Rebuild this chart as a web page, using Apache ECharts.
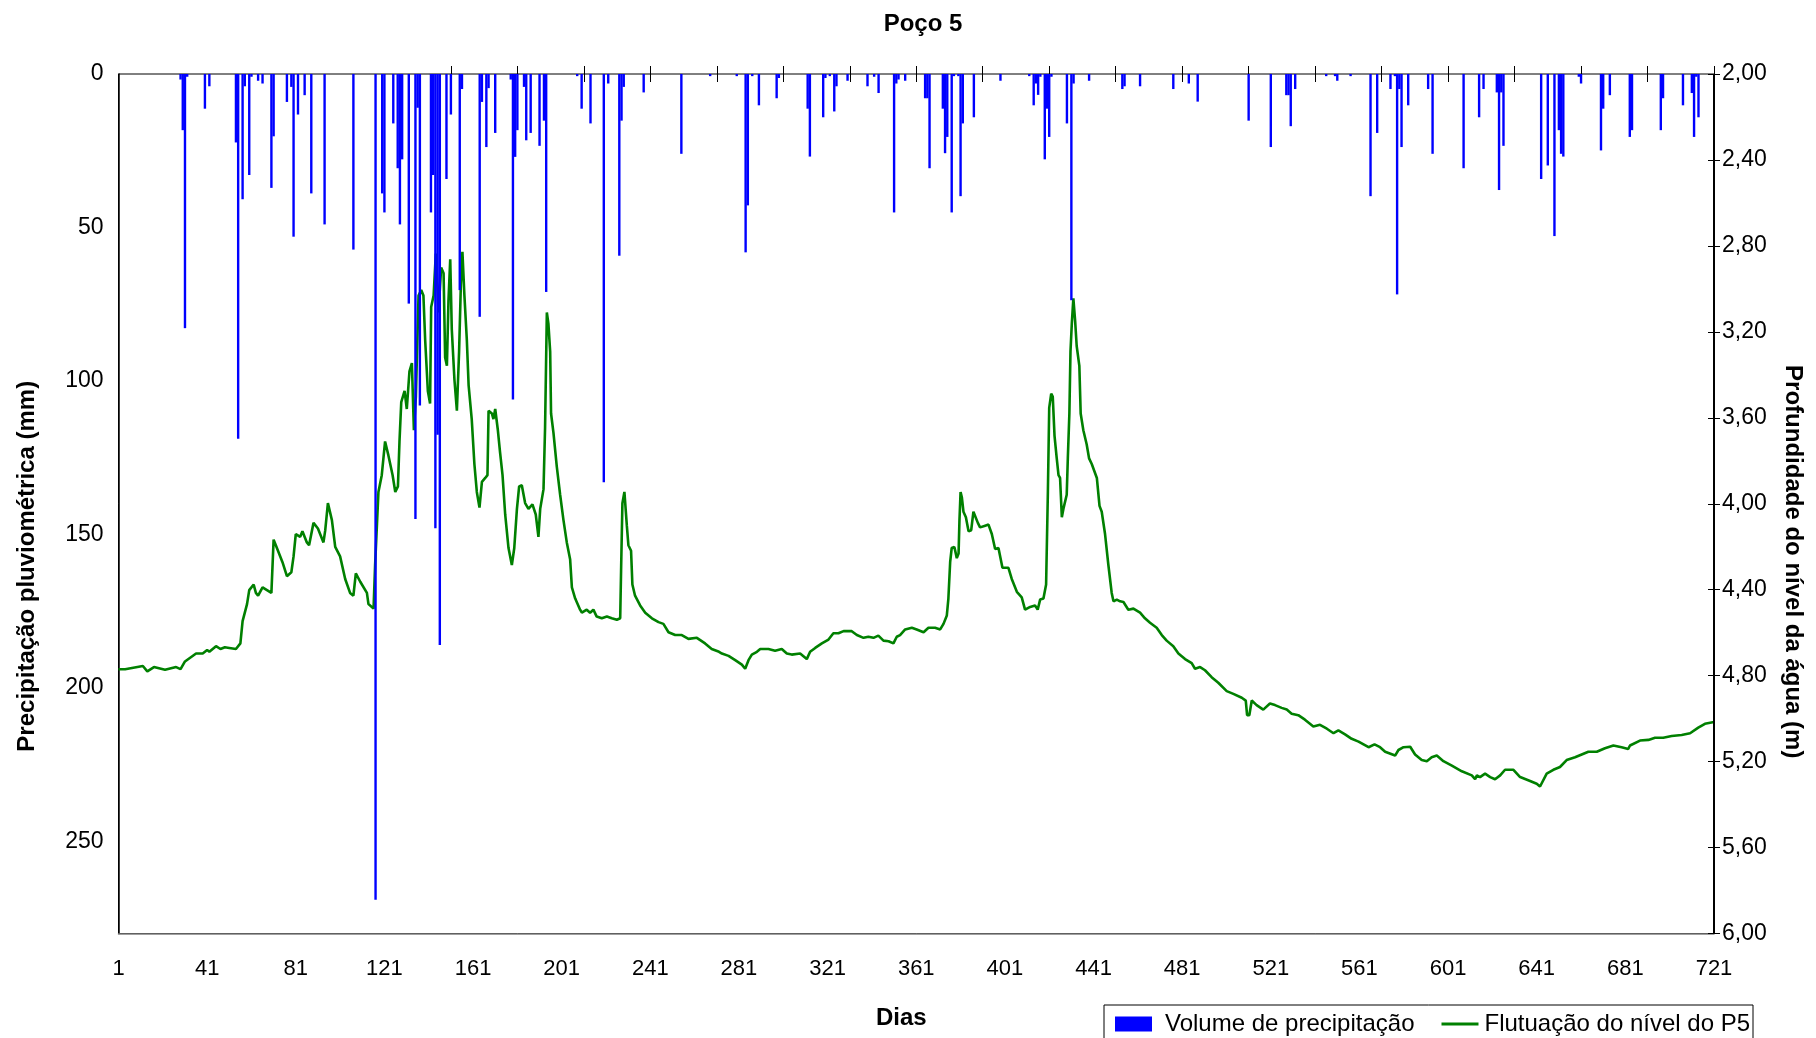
<!DOCTYPE html>
<html>
<head>
<meta charset="utf-8">
<script src="https://cdn.jsdelivr.net/npm/echarts@6/dist/echarts.min.js"></script>
<style>
html,body{margin:0;padding:0;background:#fff;}
#chart{width:1816px;height:1038px;}
</style>
</head>
<body>
<div id="chart"></div>
<script>
// ---- Data ----
const chartTitle = 'Poço 5';
const xName = 'Dias';
const leftName = 'Precipitação pluviométrica (mm)';
const rightName = 'Profundidade do nível da água (m)';
const rainName = 'Volume de precipitação';
const levelName = 'Flutuação do nível do P5';

// Day labels on the x axis (every 40 days) and top tick marks (every 30 days from day 151)
const xTickDays = [1, 41, 81, 121, 161, 201, 241, 281, 321, 361, 401, 441, 481, 521, 561, 601, 641, 681, 721];
const topTickDays = [151, 181, 211, 241, 271, 301, 331, 361, 391, 421, 451, 481, 511, 541, 571, 601, 631, 661, 691, 721];

// Daily rainfall [day, mm] (only rainy days)
const rainfall = [
 [29,1.8],[30,18.3],[31,82.8],[32,0.9],[40,11.3],[42,4.0],[54,22.3],[55,118.8],[57,40.8],[58,4.0],[60,32.9],[61,0.9],[64,2.2],[66,3.1],[70,37.1],[71,20.3],[77,9.1],[79,4.2],[80,53],[82,13.2],[85,6.9],[88,38.9],
 [94,49],[107,57.2],[117,269],[120,38.9],[121,45.1],[125,16.1],[127,30.7],[128,49],[129,27.8],[132,74.8],[135,145],[136,11],[137,108],[142,45.1],[143,32.9],[144,148],[145,117.5],[146,186],[149,34.2],[151,13.2],[155,70.4],[156,4.9],[164,79.1],[165,9.1],[167,23.8],[168,4.6],[171,19.2],[178,1.8],[179,106],[180,27],[181,18.3],
 [184,4.2],[185,21.6],[187,19.2],[191,23.4],[193,15.2],[194,71],[208,0.7],[210,11.3],[214,16.1],[220,133],[222,3.1],[227,59.2],[228,15.2],[229,4.2],[238,6.0],[255,26],[268,0.7],
 [280,0.7],[284,58.1],[285,42.8],[287,0.7],[290,10.2],[298,7.9],[299,1.3],[312,11.3],[313,26.9],[319,14.1],[320,1.3],[322,0.7],[324,12.2],[325,4.0],[330,2.2],[339,4.0],[342,0.9],[344,6.2],[351,45.1],[352,3.1],[353,1.8],[356,2.2],
 [365,7.9],[366,7.9],[367,30.7],[373,11.3],[374,25.8],[375,20.5],[377,45.1],[378,0.7],[380,0.7],[381,39.8],[382,16.1],[387,14.1],[399,2.2],[412,0.7],[414,10.2],[415,3.1],[416,6.8],[417,0.9],[419,27.8],[420,11.3],[421,20.5],[422,0.9],[429,16.1],[431,73.7],[432,3.1],[439,2.2],
 [454,4.9],[455,4.0],[462,4.0],[477,4.9],[484,3.1],[488,9.0],[511,15.2],[521,23.8],[528,6.9],[529,6.9],[530,17.0],[532,4.9],
 [546,0.7],[550,0.7],[551,2.2],[557,0.7],[566,39.8],[569,19.2],[575,4.9],[577,0.7],[578,71.8],[579,4.9],[580,23.8],[583,10.2],[592,4.9],[594,26],[608,30.7],[615,14.1],[617,4.9],[623,6.0],[624,37.8],[625,6.0],[626,23.4],
 [643,34.2],[646,29.8],[649,52.8],[651,18.3],[652,26],[653,26.9],[660,0.9],[661,3.1],[670,24.9],[671,11.3],[674,6.9],[683,20.5],[684,18.3],[697,18.3],[698,7.9],[707,10.2],[711,6.2],[712,20.5],[713,0.9],[714,14.1]
];

// Water-level depth [day, m]
const waterLevel = [
 [1,4.77],[4,4.77],[12,4.755],[14,4.78],[17,4.76],[22,4.773],[27,4.76],[29,4.77],[31,4.734],[36,4.697],[39,4.697],[41,4.681],[42,4.689],[45,4.663],[47,4.676],[49,4.668],[51,4.671],[54,4.676],[56,4.65],[57,4.546],[59,4.467],[60,4.402],[62,4.376],[63,4.415],[64,4.428],[66,4.389],[68,4.402],[70,4.415],[71,4.167],[72,4.193],[75,4.272],[77,4.337],[79,4.319],[80,4.245],[81,4.141],[83,4.154],[84,4.128],[86,4.18],[87,4.193],[89,4.089],[91,4.115],
 [93.5,4.18],[94.3,4.123],[95.5,3.997],[97.3,4.076],[98.8,4.201],[101,4.245],[103.3,4.35],[105.5,4.415],[107,4.428],[108.1,4.324],[110.1,4.363],[113.1,4.415],[113.8,4.467],[116.1,4.488],[116.8,4.285],[118.3,3.945],[119.8,3.867],[121.3,3.71],[122.8,3.775],[124.7,3.867],[125.9,3.945],[127.1,3.919],[127.8,3.71],[128.6,3.527],[130.1,3.475],[131.1,3.559],[132.3,3.384],[133.4,3.345],[134.3,3.658],[135.2,3.501],[136.4,3.031],[137.6,3.005],[138.6,3.031],[139.4,3.24],[140.6,3.475],[141.6,3.533],[142.1,3.084],[143.2,3.031],[144.2,2.836],[145.1,3.031],[145.4,3.11],[146.6,2.901],[147.7,2.927],[148.4,3.319],[149.2,3.358],[149.9,3.057],[150.7,2.862],[151.4,3.188],[152.6,3.423],[153.7,3.567],[154.7,3.292],[155.5,2.979],[156.2,2.828],[157.1,3.031],[158.2,3.24],[159,3.449],[160.4,3.606],[161.6,3.815],[162.7,3.945],[163.9,4.018],[165,3.898],[166.5,3.88],[167.5,3.867],[168,3.567],[169.5,3.58],[170.2,3.606],[171,3.559],[172.2,3.658],[173.2,3.762],[174.3,3.867],[175.5,4.05],[177,4.206],[178.5,4.285],[179.6,4.206],[180.8,4.024],[181.8,3.919],
 [183,3.914],[184.5,3.997],[186,4.024],[187.8,4.003],[189.3,4.05],[190.5,4.154],[191.3,4.024],[192.8,3.932],[193.5,3.645],[194.3,3.11],[195,3.162],[195.8,3.292],[196.2,3.58],[197.3,3.671],[198.8,3.828],[200.3,3.958],[201.8,4.076],[203.3,4.18],[204.8,4.258],[205.6,4.389],[207.1,4.441],[209.3,4.493],[210.1,4.507],[212.3,4.493],[213.8,4.507],[215.3,4.493],[216.8,4.525],[219.1,4.533],[221.4,4.525],[223.6,4.533],[225.9,4.54],[227.4,4.533],[227.8,4.311],[228.4,3.997],[229.3,3.945],[230.4,4.102],[231.1,4.193],[232.3,4.219],[232.9,4.376],[234.1,4.428],[236.4,4.473],[238.7,4.507],[241.7,4.533],[244.7,4.551],[246.9,4.559],[249.2,4.598],[252.2,4.611],[255.2,4.611],[258.2,4.629],[262,4.624],[265.7,4.65],[268.7,4.676],[272,4.689],
 [273.3,4.697],[276.3,4.708],[279.3,4.728],[282.3,4.749],[283.8,4.768],[285.3,4.728],[286.8,4.702],[289.1,4.689],[290.6,4.676],[294.3,4.676],[297.3,4.684],[300.3,4.676],[302.6,4.697],[304.8,4.702],[308.6,4.697],[310.1,4.71],[311.6,4.723],[313.1,4.689],[315.4,4.671],[318.4,4.65],[321.4,4.632],[323.6,4.603],[325.9,4.603],[328.2,4.593],[331.9,4.593],[334.2,4.611],[337.2,4.624],[339.4,4.619],[341.7,4.624],[343.9,4.614],[346.2,4.637],[348.5,4.64],[350.7,4.65],[352.2,4.619],[353.7,4.611],[356,4.585],[359,4.577],[361.2,4.585],
 [364.3,4.598],[366.5,4.577],[369.5,4.577],[371.8,4.585],[373.3,4.559],[374.8,4.52],[375.5,4.441],[376.3,4.272],[377,4.206],[378.2,4.201],[379.3,4.253],[380.1,4.232],[380.5,4.076],[381,3.945],[381.6,3.971],[382.3,4.037],[383.4,4.063],[384.6,4.128],[385.8,4.123],[386.8,4.037],[387.6,4.029],[388.8,4.089],[389.8,4.11],[392.1,4.102],[393.6,4.097],[395.1,4.141],[396.6,4.211],[398.1,4.206],[399.9,4.298],[402.6,4.298],[404.1,4.35],[406.4,4.41],[408.6,4.436],[410.1,4.493],[412.4,4.48],[414.6,4.473],[415.8,4.493],[416.9,4.446],[418.4,4.441],[419.6,4.376],[420.4,3.945],[421,3.554],[421.9,3.488],[422.6,3.501],[423.4,3.684],[424.4,3.789],[425.2,3.867],[425.9,3.88],[426.7,4.063],[427.4,4.024],[428.9,3.958],[429.4,3.789],[430.1,3.58],[430.6,3.292],[431.2,3.162],[431.9,3.044],[432.7,3.149],[433.4,3.266],[434.6,3.358],[435.2,3.58],[436.4,3.658],[437.9,3.723],[439,3.789],[440.2,3.815],[442.5,3.88],[443.7,4.01],[444.7,4.037],[446.2,4.141],[447.7,4.285],[449.2,4.415],[450,4.454],[451.5,4.446],[453,4.454],
 [454.5,4.457],[456.7,4.493],[459,4.488],[462,4.507],[464.2,4.533],[466.5,4.554],[469.5,4.577],[471.8,4.611],[474,4.637],[477,4.663],[479.3,4.697],[482.3,4.723],[485.3,4.742],[486.8,4.768],[489.1,4.76],[491.3,4.775],[494.3,4.807],[497.3,4.833],[501.1,4.872],[504.1,4.885],[507.9,4.903],[509.7,4.916],[510.3,4.984],[511.3,4.984],[512.4,4.916],[514.6,4.937],[517.6,4.958],[520.6,4.93],[522.9,4.937],[525.9,4.95],[528.2,4.958],[530.4,4.977],[533.4,4.984],[536.4,5.005],[540.2,5.037],[543.2,5.029],
 [546.3,5.047],[549.3,5.068],[551.5,5.055],[554.5,5.073],[557.5,5.094],[560.6,5.107],[565.1,5.133],[567.8,5.12],[570.3,5.133],[572.6,5.154],[577.1,5.172],[578.6,5.146],[580.9,5.133],[583.9,5.131],[586.1,5.167],[589.1,5.193],[591.4,5.198],[593.6,5.18],[595.9,5.172],[598.9,5.198],[602.7,5.219],[607.2,5.245],[611.7,5.264],[613.2,5.282],[614,5.264],[615.4,5.272],[617.7,5.256],[620,5.272],[622.2,5.282],[624.5,5.264],[626.7,5.238],[630.5,5.238],[633.5,5.272],
 [634.2,5.277],[638,5.29],[641,5.303],[642.5,5.316],[645.5,5.256],[648.5,5.238],[651.5,5.225],[654.5,5.193],[658.3,5.18],[661.3,5.167],[664.3,5.154],[668.1,5.154],[671.8,5.138],[675.6,5.125],[679.3,5.133],[682.3,5.141],[683.1,5.125],[687.6,5.102],[691.4,5.099],[694.4,5.089],[698.1,5.089],[701.9,5.081],[706.4,5.076],[710.2,5.068],[713.9,5.042],[716.9,5.024],[721,5.016]
];

// ---- Chart ----
const FONT = '"Liberation Sans", Arial, sans-serif';
// x axis runs on (day - 1) so that ticks fall on 1, 41, 81, ...
const toX = d => d - 1;
const lastDay = xTickDays[xTickDays.length - 1];

const chart = echarts.init(document.getElementById('chart'), null, {renderer: 'canvas'});

chart.setOption({
  animation: false,
  backgroundColor: '#fff',
  textStyle: {fontFamily: FONT, color: '#000'},
  title: {
    text: chartTitle, left: 918, top: 7, textAlign: 'center',
    textStyle: {fontFamily: FONT, fontSize: 24, fontWeight: 'bold', color: '#000'}
  },
  legend: {
    left: 1104, top: 1005,
    padding: [7, 3, 8, 11],
    itemGap: 27, itemWidth: 37, itemHeight: 15,
    borderColor: '#000', borderWidth: 1, backgroundColor: '#fff',
    textStyle: {fontFamily: FONT, fontSize: 24, color: '#000', padding: [0, 0, 0, 8]},
    data: [
      {name: rainName, icon: 'rect'},
      {name: levelName, icon: 'path://M0,0 L40,0 L40,3 L0,3 Z', itemStyle: {color: '#008000'},
       textStyle: {fontFamily: FONT, fontSize: 24, color: '#000', padding: [0, 0, 0, 1]}}
    ]
  },
  grid: {
    left: 118.5, right: 102, top: 74, bottom: 104.5,
    outerBoundsMode: 'none', containLabel: false,
    show: true, borderColor: '#000', borderWidth: 1, backgroundColor: '#fff'
  },
  xAxis: [
    {
      type: 'value', position: 'bottom', min: 0, max: toX(lastDay), interval: 40,
      name: xName, nameLocation: 'middle', nameGap: 73,
      nameTextStyle: {fontFamily: FONT, fontSize: 24, fontWeight: 'bold', color: '#000', padding: [0, 30, 0, 0]},
      axisLine: {show: true, onZero: false, lineStyle: {color: '#808080', width: 1.5}},
      axisTick: {show: false},
      axisLabel: {fontFamily: FONT, fontSize: 22, color: '#000', margin: 24, formatter: v => String(v + 1)},
      splitLine: {show: false}
    },
    {
      // top tick marks crossing the top edge (axis shifted 8px into the plot, ticks 16px outward)
      type: 'value', position: 'top', offset: -8, min: 0, max: toX(lastDay),
      axisLine: {show: false, onZero: false},
      axisTick: {show: true, inside: false, length: 16, lineStyle: {color: '#000', width: 1}, customValues: topTickDays.map(toX)},
      axisLabel: {show: false}, splitLine: {show: false}
    }
  ],
  yAxis: [
    {
      type: 'value', position: 'left', inverse: true, min: 0, max: 280, interval: 50,
      name: leftName, nameLocation: 'middle', nameGap: 79, nameRotate: 90,
      nameTextStyle: {fontFamily: FONT, fontSize: 24, fontWeight: 'bold', color: '#000', padding: [0, 125, 0, 0]},
      axisLine: {show: true, onZero: false, lineStyle: {color: '#000', width: 1.5}},
      axisTick: {show: false},
      axisLabel: {fontFamily: FONT, fontSize: 23, color: '#000', margin: 15, showMaxLabel: false},
      splitLine: {show: false}
    },
    {
      // right axis shifted 6px into the plot so its 12px ticks cross the edge
      type: 'value', position: 'right', offset: -6, inverse: true, min: 2, max: 6, interval: 0.4,
      name: rightName, nameLocation: 'middle', nameGap: 73, nameRotate: -90,
      nameTextStyle: {fontFamily: FONT, fontSize: 24, fontWeight: 'bold', color: '#000', padding: [0, 0, 0, 116]},
      axisLine: {show: false, onZero: false},
      axisTick: {show: true, inside: false, length: 12, lineStyle: {color: '#000'}},
      axisLabel: {fontFamily: FONT, fontSize: 23, color: '#000', margin: 14,
        formatter: v => v.toFixed(2).replace('.', ',')},
      splitLine: {show: false}
    }
  ],
  series: [
    {
      name: rainName, type: 'bar', xAxisIndex: 0, yAxisIndex: 0,
      barWidth: 2.4, z: 3,
      itemStyle: {color: '#0000FF'},
      data: rainfall.map(p => [toX(p[0]), p[1]])
    },
    {
      name: levelName, type: 'line', xAxisIndex: 0, yAxisIndex: 1,
      symbol: 'none', z: 2,
      lineStyle: {color: '#008000', width: 2.6},
      itemStyle: {color: '#008000'},
      data: waterLevel.map(p => [toX(p[0]), p[1]])
    }
  ],
  graphic: [
    {
      // thicker right-hand axis line, as in the reference
      type: 'line', z: 10,
      shape: {x1: 1714, y1: 74, x2: 1714, y2: 933.5},
      style: {stroke: '#000', lineWidth: 2}
    }
  ]
});
</script>
</body>
</html>
